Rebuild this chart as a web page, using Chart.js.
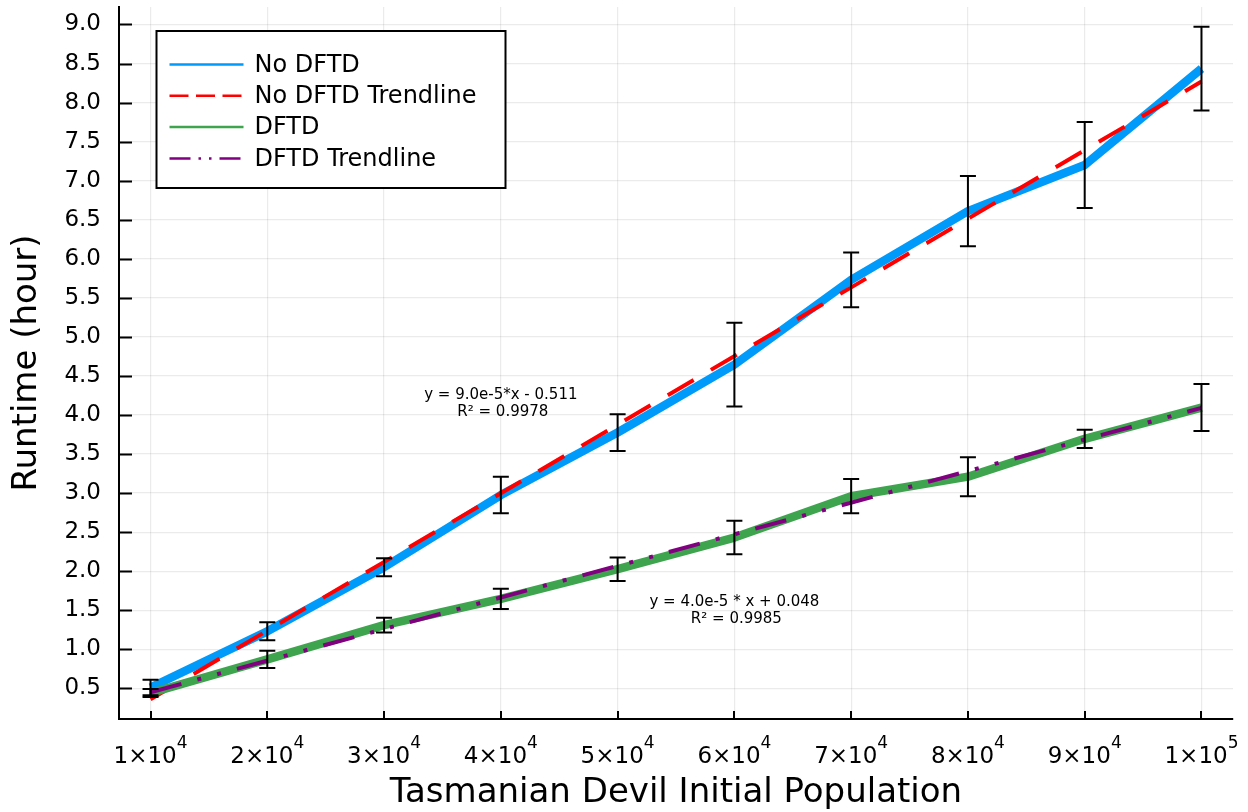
<!DOCTYPE html>
<html>
<head>
<meta charset="utf-8">
<script src="https://cdn.jsdelivr.net/npm/chart.js@4.4.1/dist/chart.umd.min.js"></script>
<style>body{margin:0;background:#fff}</style>
</head>
<body>
<canvas id="myChart" width="1248" height="812"></canvas>
<script>
// values
const population = [10000, 20000, 30000, 40000, 50000, 60000, 70000, 80000, 90000, 100000]
const noDftd    = [0.51, 1.23, 2.05, 2.975, 3.775, 4.645, 5.73, 6.61, 7.2, 8.435]
const noDftdErr = [0.10, 0.115, 0.115, 0.235, 0.235, 0.535, 0.35, 0.45, 0.55, 0.535]
const dftd      = [0.44, 0.87, 1.31, 1.645, 2.025, 2.43, 2.96, 3.21, 3.695, 4.095]
const dftdErr   = [0.05, 0.11, 0.095, 0.13, 0.15, 0.215, 0.22, 0.25, 0.117, 0.3]
const noDftdTrendX = [10000, 100000]
const noDftdTrend  = [0.36, 8.27]
const dftdTrendX   = [10000, 100000]
const dftdTrend    = [0.45, 4.09]
const yTicks = [0.5, 1.0, 1.5, 2.0, 2.5, 3.0, 3.5, 4.0, 4.5, 5.0, 5.5, 6.0, 6.5, 7.0, 7.5, 8.0, 8.5, 9.0]
const xTickBase = ['1×10', '2×10', '3×10', '4×10', '5×10', '6×10', '7×10', '8×10', '9×10', '1×10']
const xTickExp  = ['4', '4', '4', '4', '4', '4', '4', '4', '4', '5']
const noDftdEq = ['y = 9.0e-5*x - 0.511', 'R² = 0.9978']
const dftdEq   = ['y = 4.0e-5 * x + 0.048', 'R² = 0.9985']

const FONT = '"DejaVu Sans", sans-serif'
Chart.defaults.font.family = FONT
Chart.defaults.color = '#000'

const pts = (xs, ys) => xs.map((x, i) => ({x: x, y: ys[i]}))

const legendItems = [
	{label: 'No DFTD', color: '#009AFA', dash: []},
	{label: 'No DFTD Trendline', color: '#FF0000', dash: [19, 7.5]},
	{label: 'DFTD', color: '#3EA44E', dash: []},
	{label: 'DFTD Trendline', color: '#800080', dash: [21, 8, 2.5, 8, 2.5, 8]}
]

// error bars, drawn on top of the lines
const errorBars = {
	id: 'errorBars',
	afterDatasetsDraw(chart){
		const {ctx, scales: {x, y}} = chart
		ctx.save()
		ctx.strokeStyle = '#000'
		ctx.lineWidth = 2
		const draw = (vals, errs) => vals.forEach((v, i) => {
			const px = x.getPixelForValue(population[i])
			const top = y.getPixelForValue(v + errs[i])
			const bot = y.getPixelForValue(v - errs[i])
			ctx.beginPath()
			ctx.moveTo(px, top); ctx.lineTo(px, bot)
			ctx.moveTo(px - 8, top); ctx.lineTo(px + 8, top)
			ctx.moveTo(px - 8, bot); ctx.lineTo(px + 8, bot)
			ctx.stroke()
		})
		draw(noDftd, noDftdErr)
		draw(dftd, dftdErr)
		ctx.restore()
	}
}

// fit equations, placed in data space
const equations = {
	id: 'equations',
	afterDatasetsDraw(chart){
		const {ctx, scales: {x, y}} = chart
		ctx.save()
		ctx.font = '15px ' + FONT
		ctx.fillStyle = '#000'
		ctx.textAlign = 'center'
		ctx.textBaseline = 'middle'
		const put = (lines, xv, yv) => {
			const px = x.getPixelForValue(xv), py = y.getPixelForValue(yv)
			ctx.fillText(lines[0], px, py - 8.5)
			ctx.fillText(lines[1], px + 2, py + 8.5)
		}
		put(noDftdEq, 40000, 4.15)
		put(dftdEq, 60000, 1.5)
		ctx.restore()
	}
}

// inward tick marks, x tick labels with exponents, legend box
const decorations = {
	id: 'decorations',
	afterDraw(chart){
		const {ctx, chartArea: area, scales: {x, y}} = chart
		ctx.save()
		ctx.strokeStyle = '#000'
		ctx.lineWidth = 2
		ctx.beginPath()
		yTicks.forEach(v => {
			const py = Math.round(y.getPixelForValue(v)) + 0.5
			ctx.moveTo(area.left, py); ctx.lineTo(area.left + 13, py)
		})
		population.forEach(v => {
			const px = Math.round(x.getPixelForValue(v))
			ctx.moveTo(px, area.bottom); ctx.lineTo(px, area.bottom - 8)
		})
		ctx.stroke()

		ctx.fillStyle = '#000'
		ctx.textBaseline = 'alphabetic'
		ctx.textAlign = 'left'
		population.forEach((v, i) => {
			ctx.font = '23px ' + FONT
			const wb = ctx.measureText(xTickBase[i]).width
			ctx.font = '17px ' + FONT
			const we = ctx.measureText(xTickExp[i]).width
			const x0 = x.getPixelForValue(v) - (wb + we) / 2
			ctx.font = '23px ' + FONT
			ctx.fillText(xTickBase[i], x0, area.bottom + 44)
			ctx.font = '17px ' + FONT
			ctx.fillText(xTickExp[i], x0 + wb, area.bottom + 29)
		})

		const lx = area.left + 37.5, ly = area.top + 24
		ctx.fillStyle = '#fff'
		ctx.fillRect(lx, ly, 349, 157)
		ctx.strokeStyle = '#000'
		ctx.lineWidth = 2
		ctx.strokeRect(lx, ly, 349, 157)
		ctx.font = '24px ' + FONT
		ctx.textBaseline = 'middle'
		legendItems.forEach((it, i) => {
			const ry = ly + 33.5 + i * 31.3
			ctx.strokeStyle = it.color
			ctx.lineWidth = 2.5
			ctx.setLineDash(it.dash)
			ctx.beginPath()
			ctx.moveTo(lx + 13, ry); ctx.lineTo(lx + 87, ry)
			ctx.stroke()
			ctx.setLineDash([])
			ctx.fillStyle = '#000'
			ctx.fillText(it.label, lx + 98, ry + 1)
		})
		ctx.restore()
	}
}

const ctx = document.getElementById('myChart').getContext('2d')

const myChart = new Chart(ctx, {
	type: 'line',
	data: {
		datasets: [{
			label: 'No DFTD',
			data: pts(population, noDftd),
			borderColor: '#009AFA',
			borderWidth: 8.5,
			order: 4
		}, {
			label: 'No DFTD Trendline',
			data: pts(noDftdTrendX, noDftdTrend),
			borderColor: '#FF0000',
			borderWidth: 4,
			borderDash: [30, 20],
			order: 3
		}, {
			label: 'DFTD',
			data: pts(population, dftd),
			borderColor: '#3EA44E',
			borderWidth: 8.5,
			order: 2
		}, {
			label: 'DFTD Trendline',
			data: pts(dftdTrendX, dftdTrend),
			borderColor: '#800080',
			borderWidth: 4,
			borderDash: [32, 16.5, 4, 16.5, 4, 16.5],
			order: 1
		}]
	},
	options: {
		responsive: false,
		animation: false,
		devicePixelRatio: 1,
		elements: {
			point: {radius: 0},
			line: {tension: 0, fill: false, borderJoinStyle: 'round', borderCapStyle: 'butt'}
		},
		layout: {padding: {top: 7, right: 15, left: 0, bottom: 0}},
		plugins: {
			legend: {display: false},
			tooltip: {enabled: false}
		},
		scales: {
			x: {
				type: 'linear',
				min: 7300,
				max: 102700,
				afterBuildTicks: s => { s.ticks = population.map(v => ({value: v})) },
				afterFit: s => { s.height = 93; s.paddingLeft = 0; s.paddingRight = 0 },
				grid: {color: 'rgba(0,0,0,0.08)', lineWidth: 1.2, drawTicks: false},
				border: {color: '#000', width: 2},
				ticks: {display: false},
				title: {
					display: true,
					text: 'Tasmanian Devil Initial Population',
					font: {size: 34, lineHeight: 1.1},
					color: '#000',
					padding: {top: 0, bottom: 0}
				}
			},
			y: {
				type: 'linear',
				min: 0.107,
				max: 9.224,
				afterBuildTicks: s => { s.ticks = yTicks.map(v => ({value: v})) },
				afterFit: s => { s.width = 119; s.paddingTop = 0; s.paddingBottom = 0 },
				grid: {color: 'rgba(0,0,0,0.08)', lineWidth: 1.2, drawTicks: false},
				border: {color: '#000', width: 2},
				ticks: {
					callback: v => v.toFixed(1),
					font: {size: 23},
					color: '#000',
					padding: 18,
					autoSkip: false
				},
				title: {
					display: true,
					text: 'Runtime (hour)',
					font: {size: 34, lineHeight: 1.1},
					color: '#000',
					padding: {top: 8, bottom: 0}
				}
			}
		}
	},
	plugins: [errorBars, equations, decorations]
})
</script>
</body>
</html>
